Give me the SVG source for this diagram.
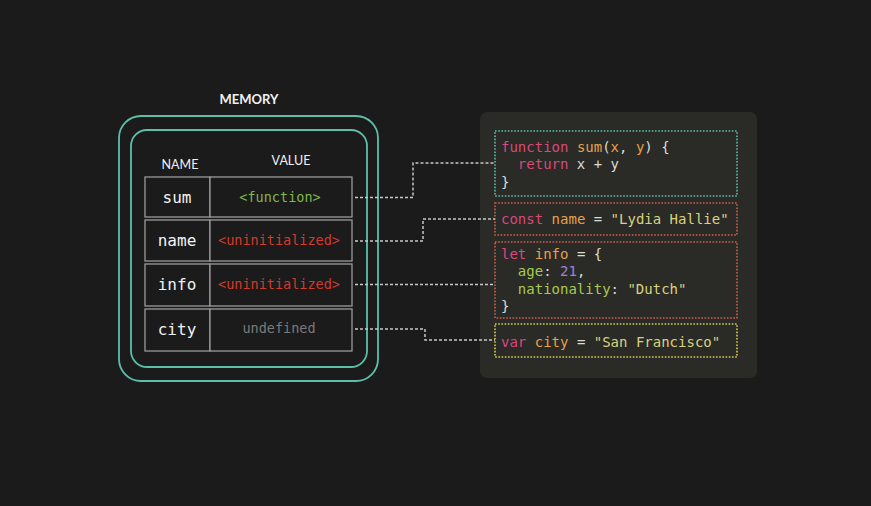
<svg xmlns="http://www.w3.org/2000/svg" width="871" height="506" viewBox="0 0 871 506">
<style>
.hdr{font-family:"Lato","Liberation Sans",sans-serif;fill:#f0f0f0;text-anchor:middle}
.cell{fill:#1b1b1b;stroke:#9a9a9a;stroke-width:1.3}
.nm{font-family:"DejaVu Sans Mono",monospace;font-size:16px;fill:#f2f2f2;text-anchor:middle}
.val{font-family:"DejaVu Sans Mono",monospace;font-size:13.5px;text-anchor:middle}
.code{font-family:"DejaVu Sans Mono",monospace;font-size:14px;fill:#dcdcd6;white-space:pre}
.kw{fill:#d8497c}.id{fill:#e3a347}.st{fill:#d9d37e}.pr{fill:#a7cb4d}.nu{fill:#9b82db}
.conn{fill:none;stroke:#c8c8c8;stroke-width:1.5;stroke-dasharray:3 2}
.dot{fill:none;stroke-width:1.6;stroke-dasharray:1.6 1.6}
</style>
<rect width="871" height="506" fill="#1b1b1b"/>
<g id="memory">
<text class="hdr" x="249" y="104" font-size="13" font-weight="bold">MEMORY</text>
<rect x="119" y="116" width="259" height="265" rx="22" fill="none" stroke="#5dbfa8" stroke-width="1.8"/>
<rect x="131" y="130" width="236" height="237" rx="16" fill="none" stroke="#5dbfa8" stroke-width="1.8"/>
<text class="hdr" x="180" y="169" font-size="12.5">NAME</text>
<text class="hdr" x="291" y="165" font-size="12.5">VALUE</text>
</g>
<g id="row-sum">
<rect class="cell" x="145" y="177" width="65" height="40"/><rect class="cell" x="210" y="177" width="142" height="40"/>
<text class="nm" x="177" y="203">sum</text><text class="val" x="280" y="202" fill="#7fb84b">&lt;function&gt;</text>
</g>
<g id="row-name">
<rect class="cell" x="145" y="220" width="65" height="41"/><rect class="cell" x="210" y="220" width="142" height="41"/>
<text class="nm" x="177" y="246">name</text><text class="val" x="279" y="245" fill="#d13a2d">&lt;uninitialized&gt;</text>
</g>
<g id="row-info">
<rect class="cell" x="145" y="264" width="65" height="42"/><rect class="cell" x="210" y="264" width="142" height="42"/>
<text class="nm" x="177" y="290">info</text><text class="val" x="279" y="289" fill="#d13a2d">&lt;uninitialized&gt;</text>
</g>
<g id="row-city">
<rect class="cell" x="145" y="309" width="65" height="42"/><rect class="cell" x="210" y="309" width="142" height="42"/>
<text class="nm" x="177" y="335">city</text><text class="val" x="279" y="333" fill="#7a7a7a">undefined</text>
</g>
<g id="code-panel">
<rect x="480" y="112" width="277" height="266" rx="7" fill="#2a2a27"/>
</g>
<g id="code-sum">
<rect class="dot" x="495" y="131" width="242" height="65" stroke="#5dbfa8"/>
<text class="code" x="501" y="152"><tspan class="kw">function</tspan> <tspan class="id">sum</tspan>(<tspan class="id">x</tspan>, <tspan class="id">y</tspan>) {</text>
<text class="code" x="501" y="169">  <tspan class="kw">return</tspan> x + y</text>
<text class="code" x="501" y="187">}</text>
</g>
<g id="code-name">
<rect class="dot" x="495" y="203" width="242" height="32" stroke="#d0604f"/>
<text class="code" x="501" y="224"><tspan class="kw">const</tspan> <tspan class="id">name</tspan> = <tspan class="st">"Lydia Hallie"</tspan></text>
</g>
<g id="code-info">
<rect class="dot" x="495" y="242" width="242" height="76" stroke="#d0604f"/>
<text class="code" x="501" y="259"><tspan class="kw">let</tspan> <tspan class="id">info</tspan> = {</text>
<text class="code" x="501" y="276">  <tspan class="pr">age</tspan>: <tspan class="nu">21</tspan>,</text>
<text class="code" x="501" y="294">  <tspan class="pr">nationality</tspan>: <tspan class="st">"Dutch"</tspan></text>
<text class="code" x="501" y="311">}</text>
</g>
<g id="code-city">
<rect class="dot" x="495" y="324" width="242" height="33" stroke="#d6cf55"/>
<text class="code" x="501" y="347"><tspan class="kw">var</tspan> <tspan class="id">city</tspan> = <tspan class="st">"San Francisco"</tspan></text>
</g>
<g id="connectors">
<path class="conn" d="M355 197.5H413V163H495"/>
<path class="conn" d="M355 241H423V219H495"/>
<path class="conn" d="M355 284.5H495"/>
<path class="conn" d="M355 329H425V340H495"/>
</g>
</svg>
